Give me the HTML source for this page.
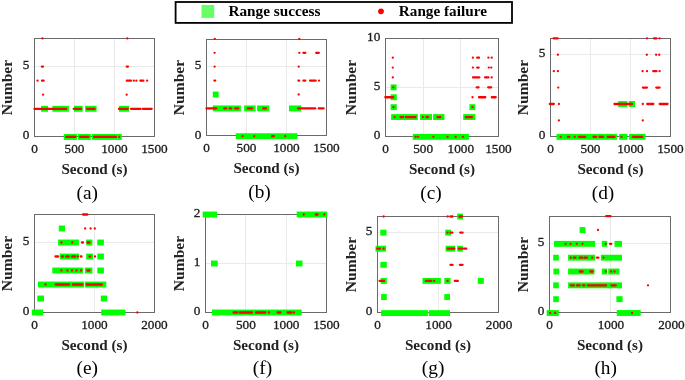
<!DOCTYPE html><html><head><meta charset="utf-8"><title>Range success / failure</title>
<style>html,body{margin:0;padding:0;background:#fff}body{width:685px;height:380px;overflow:hidden}svg{display:block;will-change:transform}text{font-family:"Liberation Serif",serif;fill:#222}.b{font-weight:bold}.t{fill:#1c1c1c;stroke:#1c1c1c;stroke-width:0.3px}</style></head><body>
<svg width="685" height="380" viewBox="0 0 685 380">
<rect x="0" y="0" width="685" height="380" fill="#fff"/>
<rect x="175.6" y="2.0" width="336.4" height="20.9" fill="#fff" stroke="#000" stroke-width="1.8"/>
<rect x="201.5" y="5.0" width="12.7" height="12.9" fill="#66ff66"/>
<text class="b" x="228.4" y="16.3" font-size="14.6" textLength="92.1" lengthAdjust="spacingAndGlyphs" style="fill:#000">Range success</text>
<circle cx="381.0" cy="11.3" r="2.85" fill="#ff0000"/>
<text class="b" x="398.8" y="16.3" font-size="14.6" textLength="88.1" lengthAdjust="spacingAndGlyphs" style="fill:#000">Range failure</text>
<g id="pa">
<line x1="74.50" y1="38.50" x2="74.50" y2="136.50" stroke="#eaeaea" stroke-width="1"/>
<line x1="114.50" y1="38.50" x2="114.50" y2="136.50" stroke="#eaeaea" stroke-width="1"/>
<line x1="34.50" y1="66.50" x2="154.50" y2="66.50" stroke="#eaeaea" stroke-width="1"/>
<rect x="34.50" y="38.50" width="120.00" height="98.00" fill="none" stroke="#6a6a6a" stroke-width="1"/>
<rect x="41.10" y="105.84" width="7.00" height="5.90" fill="#00ff00"/>
<rect x="52.40" y="105.84" width="16.50" height="5.90" fill="#00ff00"/>
<rect x="74.00" y="105.84" width="8.70" height="5.90" fill="#00ff00"/>
<rect x="85.10" y="105.84" width="11.50" height="5.90" fill="#00ff00"/>
<rect x="118.90" y="105.84" width="10.20" height="5.90" fill="#00ff00"/>
<rect x="63.80" y="134.00" width="13.10" height="5.90" fill="#00ff00"/>
<rect x="78.00" y="134.00" width="12.80" height="5.90" fill="#00ff00"/>
<rect x="91.90" y="134.00" width="29.90" height="5.90" fill="#00ff00"/>
<circle cx="42.40" cy="38.39" r="1.15" fill="#ff0000"/>
<circle cx="127.30" cy="38.39" r="1.15" fill="#ff0000"/>
<line x1="41.90" y1="66.55" x2="43.00" y2="66.55" stroke="#ff0000" stroke-width="2.3" stroke-linecap="round"/>
<line x1="126.70" y1="66.55" x2="128.00" y2="66.55" stroke="#ff0000" stroke-width="2.3" stroke-linecap="round"/>
<circle cx="37.50" cy="80.63" r="1.15" fill="#ff0000"/>
<line x1="42.00" y1="80.63" x2="43.60" y2="80.63" stroke="#ff0000" stroke-width="2.3" stroke-linecap="round"/>
<line x1="126.80" y1="80.63" x2="131.00" y2="80.63" stroke="#ff0000" stroke-width="2.3" stroke-linecap="round"/>
<circle cx="133.80" cy="80.63" r="1.15" fill="#ff0000"/>
<circle cx="136.40" cy="80.63" r="1.15" fill="#ff0000"/>
<line x1="140.40" y1="80.63" x2="143.30" y2="80.63" stroke="#ff0000" stroke-width="2.3" stroke-linecap="round"/>
<circle cx="147.10" cy="80.63" r="1.15" fill="#ff0000"/>
<circle cx="43.10" cy="94.71" r="1.15" fill="#ff0000"/>
<circle cx="126.70" cy="94.71" r="1.15" fill="#ff0000"/>
<line x1="34.40" y1="108.79" x2="66.20" y2="108.79" stroke="#ff0000" stroke-width="2.3" stroke-linecap="round"/>
<line x1="73.70" y1="108.79" x2="81.20" y2="108.79" stroke="#ff0000" stroke-width="2.3" stroke-linecap="round"/>
<line x1="87.10" y1="108.79" x2="94.60" y2="108.79" stroke="#ff0000" stroke-width="2.3" stroke-linecap="round"/>
<line x1="119.00" y1="108.79" x2="127.80" y2="108.79" stroke="#ff0000" stroke-width="2.3" stroke-linecap="round"/>
<line x1="131.00" y1="108.79" x2="140.70" y2="108.79" stroke="#ff0000" stroke-width="2.3" stroke-linecap="round"/>
<line x1="142.90" y1="108.79" x2="151.70" y2="108.79" stroke="#ff0000" stroke-width="2.3" stroke-linecap="round"/>
<line x1="66.30" y1="136.95" x2="75.40" y2="136.95" stroke="#ff0000" stroke-width="2.3" stroke-linecap="round"/>
<line x1="80.20" y1="136.95" x2="88.50" y2="136.95" stroke="#ff0000" stroke-width="2.3" stroke-linecap="round"/>
<line x1="94.00" y1="136.95" x2="115.90" y2="136.95" stroke="#ff0000" stroke-width="2.3" stroke-linecap="round"/>
<circle cx="119.20" cy="136.95" r="1.15" fill="#ff0000"/>
<text class="t" x="34.50" y="153.00" font-size="12.5" text-anchor="middle" textLength="6.62" lengthAdjust="spacingAndGlyphs">0</text>
<text class="t" x="74.50" y="153.00" font-size="12.5" text-anchor="middle" textLength="19.86" lengthAdjust="spacingAndGlyphs">500</text>
<text class="t" x="114.50" y="153.00" font-size="12.5" text-anchor="middle" textLength="26.48" lengthAdjust="spacingAndGlyphs">1000</text>
<text class="t" x="154.50" y="153.00" font-size="12.5" text-anchor="middle" textLength="26.48" lengthAdjust="spacingAndGlyphs">1500</text>
<text class="t" x="29.30" y="139.00" font-size="12.5" text-anchor="end" textLength="6.62" lengthAdjust="spacingAndGlyphs">0</text>
<text class="t" x="29.30" y="69.00" font-size="12.5" text-anchor="end" textLength="6.62" lengthAdjust="spacingAndGlyphs">5</text>
<text class="b" x="94.50" y="174.20" font-size="13.6" text-anchor="middle" textLength="66.2" lengthAdjust="spacingAndGlyphs">Second (s)</text>
<text class="b" transform="translate(12.30,87.50) rotate(-90)" font-size="13.6" text-anchor="middle" textLength="55.4" lengthAdjust="spacingAndGlyphs">Number</text>
<text x="87.30" y="198.90" font-size="18" text-anchor="middle" textLength="21.48" lengthAdjust="spacingAndGlyphs" style="fill:#000">(a)</text>
</g>
<g id="pb">
<line x1="246.50" y1="39.50" x2="246.50" y2="135.50" stroke="#eaeaea" stroke-width="1"/>
<line x1="286.50" y1="39.50" x2="286.50" y2="135.50" stroke="#eaeaea" stroke-width="1"/>
<line x1="206.50" y1="66.50" x2="326.50" y2="66.50" stroke="#eaeaea" stroke-width="1"/>
<rect x="206.50" y="39.50" width="120.00" height="96.00" fill="none" stroke="#6a6a6a" stroke-width="1"/>
<rect x="212.80" y="91.55" width="5.80" height="5.90" fill="#00ff00"/>
<rect x="212.80" y="105.45" width="28.10" height="5.90" fill="#00ff00"/>
<rect x="244.10" y="105.45" width="11.50" height="5.90" fill="#00ff00"/>
<rect x="257.10" y="105.45" width="12.20" height="5.90" fill="#00ff00"/>
<rect x="289.00" y="105.45" width="12.10" height="5.90" fill="#00ff00"/>
<rect x="235.80" y="133.25" width="61.60" height="5.90" fill="#00ff00"/>
<circle cx="214.80" cy="38.90" r="1.15" fill="#ff0000"/>
<circle cx="299.30" cy="38.90" r="1.15" fill="#ff0000"/>
<circle cx="214.60" cy="52.80" r="1.15" fill="#ff0000"/>
<circle cx="299.30" cy="52.80" r="1.15" fill="#ff0000"/>
<line x1="303.40" y1="52.80" x2="305.30" y2="52.80" stroke="#ff0000" stroke-width="2.3" stroke-linecap="round"/>
<line x1="316.20" y1="52.80" x2="318.80" y2="52.80" stroke="#ff0000" stroke-width="2.3" stroke-linecap="round"/>
<circle cx="214.60" cy="66.70" r="1.15" fill="#ff0000"/>
<circle cx="298.70" cy="66.70" r="1.15" fill="#ff0000"/>
<line x1="214.40" y1="80.60" x2="215.20" y2="80.60" stroke="#ff0000" stroke-width="2.3" stroke-linecap="round"/>
<line x1="298.40" y1="80.60" x2="299.20" y2="80.60" stroke="#ff0000" stroke-width="2.3" stroke-linecap="round"/>
<line x1="303.40" y1="80.60" x2="305.30" y2="80.60" stroke="#ff0000" stroke-width="2.3" stroke-linecap="round"/>
<line x1="310.00" y1="80.60" x2="315.70" y2="80.60" stroke="#ff0000" stroke-width="2.3" stroke-linecap="round"/>
<circle cx="319.00" cy="80.60" r="1.15" fill="#ff0000"/>
<circle cx="298.70" cy="94.50" r="1.15" fill="#ff0000"/>
<line x1="206.50" y1="108.40" x2="216.30" y2="108.40" stroke="#ff0000" stroke-width="2.3" stroke-linecap="round"/>
<line x1="224.20" y1="108.40" x2="226.10" y2="108.40" stroke="#ff0000" stroke-width="2.3" stroke-linecap="round"/>
<line x1="229.70" y1="108.40" x2="231.20" y2="108.40" stroke="#ff0000" stroke-width="2.3" stroke-linecap="round"/>
<line x1="235.20" y1="108.40" x2="238.20" y2="108.40" stroke="#ff0000" stroke-width="2.3" stroke-linecap="round"/>
<line x1="247.70" y1="108.40" x2="251.90" y2="108.40" stroke="#ff0000" stroke-width="2.3" stroke-linecap="round"/>
<line x1="263.30" y1="108.40" x2="265.90" y2="108.40" stroke="#ff0000" stroke-width="2.3" stroke-linecap="round"/>
<line x1="298.10" y1="108.40" x2="315.20" y2="108.40" stroke="#ff0000" stroke-width="2.3" stroke-linecap="round"/>
<line x1="318.70" y1="108.40" x2="323.60" y2="108.40" stroke="#ff0000" stroke-width="2.3" stroke-linecap="round"/>
<circle cx="242.50" cy="136.20" r="1.15" fill="#ff0000"/>
<circle cx="254.20" cy="136.20" r="1.15" fill="#ff0000"/>
<line x1="272.00" y1="136.20" x2="273.80" y2="136.20" stroke="#ff0000" stroke-width="2.3" stroke-linecap="round"/>
<circle cx="285.20" cy="136.20" r="1.15" fill="#ff0000"/>
<text class="t" x="206.50" y="152.00" font-size="12.5" text-anchor="middle" textLength="6.62" lengthAdjust="spacingAndGlyphs">0</text>
<text class="t" x="246.50" y="152.00" font-size="12.5" text-anchor="middle" textLength="19.86" lengthAdjust="spacingAndGlyphs">500</text>
<text class="t" x="286.50" y="152.00" font-size="12.5" text-anchor="middle" textLength="26.48" lengthAdjust="spacingAndGlyphs">1000</text>
<text class="t" x="326.50" y="152.00" font-size="12.5" text-anchor="middle" textLength="26.48" lengthAdjust="spacingAndGlyphs">1500</text>
<text class="t" x="201.30" y="139.00" font-size="12.5" text-anchor="end" textLength="6.62" lengthAdjust="spacingAndGlyphs">0</text>
<text class="t" x="201.30" y="69.00" font-size="12.5" text-anchor="end" textLength="6.62" lengthAdjust="spacingAndGlyphs">5</text>
<text class="b" x="266.50" y="173.20" font-size="13.6" text-anchor="middle" textLength="66.2" lengthAdjust="spacingAndGlyphs">Second (s)</text>
<text class="b" transform="translate(184.00,87.50) rotate(-90)" font-size="13.6" text-anchor="middle" textLength="55.4" lengthAdjust="spacingAndGlyphs">Number</text>
<text x="259.50" y="197.90" font-size="18" text-anchor="middle" textLength="22.56" lengthAdjust="spacingAndGlyphs" style="fill:#000">(b)</text>
</g>
<g id="pc">
<line x1="423.50" y1="38.50" x2="423.50" y2="136.50" stroke="#eaeaea" stroke-width="1"/>
<line x1="460.50" y1="38.50" x2="460.50" y2="136.50" stroke="#eaeaea" stroke-width="1"/>
<line x1="385.50" y1="87.50" x2="498.50" y2="87.50" stroke="#eaeaea" stroke-width="1"/>
<rect x="385.50" y="38.50" width="113.00" height="98.00" fill="none" stroke="#6a6a6a" stroke-width="1"/>
<rect x="390.60" y="84.40" width="6.00" height="5.90" fill="#00ff00"/>
<rect x="390.60" y="94.30" width="6.20" height="5.90" fill="#00ff00"/>
<rect x="390.60" y="104.20" width="6.20" height="5.90" fill="#00ff00"/>
<rect x="469.40" y="104.20" width="5.80" height="5.90" fill="#00ff00"/>
<rect x="391.10" y="114.10" width="26.70" height="5.90" fill="#00ff00"/>
<rect x="420.10" y="114.10" width="11.90" height="5.90" fill="#00ff00"/>
<rect x="433.10" y="114.10" width="11.30" height="5.90" fill="#00ff00"/>
<rect x="463.20" y="114.10" width="12.10" height="5.90" fill="#00ff00"/>
<rect x="412.80" y="133.90" width="56.10" height="5.90" fill="#00ff00"/>
<circle cx="392.80" cy="57.65" r="1.15" fill="#ff0000"/>
<circle cx="472.90" cy="57.65" r="1.15" fill="#ff0000"/>
<line x1="477.20" y1="57.65" x2="479.00" y2="57.65" stroke="#ff0000" stroke-width="2.3" stroke-linecap="round"/>
<circle cx="488.40" cy="57.65" r="1.15" fill="#ff0000"/>
<circle cx="491.70" cy="57.65" r="1.15" fill="#ff0000"/>
<circle cx="392.80" cy="67.55" r="1.15" fill="#ff0000"/>
<circle cx="472.90" cy="67.55" r="1.15" fill="#ff0000"/>
<line x1="477.20" y1="67.55" x2="478.60" y2="67.55" stroke="#ff0000" stroke-width="2.3" stroke-linecap="round"/>
<circle cx="488.80" cy="67.55" r="1.15" fill="#ff0000"/>
<circle cx="491.30" cy="67.55" r="1.15" fill="#ff0000"/>
<circle cx="392.80" cy="77.45" r="1.15" fill="#ff0000"/>
<line x1="473.00" y1="77.45" x2="479.30" y2="77.45" stroke="#ff0000" stroke-width="2.3" stroke-linecap="round"/>
<line x1="485.10" y1="77.45" x2="488.40" y2="77.45" stroke="#ff0000" stroke-width="2.3" stroke-linecap="round"/>
<circle cx="491.70" cy="77.45" r="1.15" fill="#ff0000"/>
<circle cx="393.30" cy="87.35" r="1.15" fill="#ff0000"/>
<line x1="476.70" y1="87.35" x2="478.60" y2="87.35" stroke="#ff0000" stroke-width="2.3" stroke-linecap="round"/>
<line x1="488.20" y1="87.35" x2="491.20" y2="87.35" stroke="#ff0000" stroke-width="2.3" stroke-linecap="round"/>
<line x1="385.30" y1="97.25" x2="393.20" y2="97.25" stroke="#ff0000" stroke-width="2.3" stroke-linecap="round"/>
<circle cx="472.50" cy="97.25" r="1.15" fill="#ff0000"/>
<line x1="479.00" y1="97.25" x2="485.30" y2="97.25" stroke="#ff0000" stroke-width="2.3" stroke-linecap="round"/>
<line x1="491.80" y1="97.25" x2="495.70" y2="97.25" stroke="#ff0000" stroke-width="2.3" stroke-linecap="round"/>
<circle cx="393.50" cy="107.15" r="1.15" fill="#ff0000"/>
<circle cx="472.50" cy="107.15" r="1.15" fill="#ff0000"/>
<circle cx="394.60" cy="117.05" r="1.15" fill="#ff0000"/>
<line x1="400.50" y1="117.05" x2="403.20" y2="117.05" stroke="#ff0000" stroke-width="2.3" stroke-linecap="round"/>
<line x1="406.00" y1="117.05" x2="415.50" y2="117.05" stroke="#ff0000" stroke-width="2.3" stroke-linecap="round"/>
<circle cx="422.90" cy="117.05" r="1.15" fill="#ff0000"/>
<line x1="426.40" y1="117.05" x2="428.10" y2="117.05" stroke="#ff0000" stroke-width="2.3" stroke-linecap="round"/>
<line x1="437.40" y1="117.05" x2="440.30" y2="117.05" stroke="#ff0000" stroke-width="2.3" stroke-linecap="round"/>
<line x1="465.90" y1="117.05" x2="472.00" y2="117.05" stroke="#ff0000" stroke-width="2.3" stroke-linecap="round"/>
<circle cx="415.60" cy="136.85" r="1.15" fill="#ff0000"/>
<circle cx="418.00" cy="136.85" r="1.15" fill="#ff0000"/>
<circle cx="433.30" cy="136.85" r="1.15" fill="#ff0000"/>
<circle cx="447.50" cy="136.85" r="1.15" fill="#ff0000"/>
<circle cx="455.70" cy="136.85" r="1.15" fill="#ff0000"/>
<circle cx="463.00" cy="136.85" r="1.15" fill="#ff0000"/>
<text class="t" x="385.50" y="153.00" font-size="12.5" text-anchor="middle" textLength="6.62" lengthAdjust="spacingAndGlyphs">0</text>
<text class="t" x="423.17" y="153.00" font-size="12.5" text-anchor="middle" textLength="19.86" lengthAdjust="spacingAndGlyphs">500</text>
<text class="t" x="460.83" y="153.00" font-size="12.5" text-anchor="middle" textLength="26.48" lengthAdjust="spacingAndGlyphs">1000</text>
<text class="t" x="498.50" y="153.00" font-size="12.5" text-anchor="middle" textLength="26.48" lengthAdjust="spacingAndGlyphs">1500</text>
<text class="t" x="380.30" y="139.00" font-size="12.5" text-anchor="end" textLength="6.62" lengthAdjust="spacingAndGlyphs">0</text>
<text class="t" x="380.30" y="90.00" font-size="12.5" text-anchor="end" textLength="6.62" lengthAdjust="spacingAndGlyphs">5</text>
<text class="t" x="380.30" y="41.00" font-size="12.5" text-anchor="end" textLength="13.24" lengthAdjust="spacingAndGlyphs">10</text>
<text class="b" x="442.00" y="174.20" font-size="13.6" text-anchor="middle" textLength="66.2" lengthAdjust="spacingAndGlyphs">Second (s)</text>
<text class="b" transform="translate(355.70,87.50) rotate(-90)" font-size="13.6" text-anchor="middle" textLength="55.4" lengthAdjust="spacingAndGlyphs">Number</text>
<text x="431.00" y="198.90" font-size="18" text-anchor="middle" textLength="21.48" lengthAdjust="spacingAndGlyphs" style="fill:#000">(c)</text>
</g>
<g id="pd">
<line x1="590.50" y1="38.50" x2="590.50" y2="136.50" stroke="#eaeaea" stroke-width="1"/>
<line x1="630.50" y1="38.50" x2="630.50" y2="136.50" stroke="#eaeaea" stroke-width="1"/>
<line x1="550.50" y1="54.50" x2="670.50" y2="54.50" stroke="#eaeaea" stroke-width="1"/>
<rect x="550.50" y="38.50" width="120.00" height="98.00" fill="none" stroke="#6a6a6a" stroke-width="1"/>
<rect x="618.20" y="101.06" width="9.10" height="5.90" fill="#00ff00"/>
<rect x="628.90" y="101.06" width="6.10" height="5.90" fill="#00ff00"/>
<rect x="556.50" y="133.90" width="60.40" height="5.90" fill="#00ff00"/>
<rect x="619.10" y="133.90" width="8.20" height="5.90" fill="#00ff00"/>
<rect x="629.10" y="133.90" width="16.40" height="5.90" fill="#00ff00"/>
<line x1="553.60" y1="38.33" x2="557.70" y2="38.33" stroke="#ff0000" stroke-width="2.3" stroke-linecap="round"/>
<circle cx="647.00" cy="38.33" r="1.15" fill="#ff0000"/>
<line x1="653.90" y1="38.33" x2="656.50" y2="38.33" stroke="#ff0000" stroke-width="2.3" stroke-linecap="round"/>
<circle cx="659.60" cy="38.33" r="1.15" fill="#ff0000"/>
<circle cx="557.90" cy="54.75" r="1.15" fill="#ff0000"/>
<circle cx="646.80" cy="54.75" r="1.15" fill="#ff0000"/>
<circle cx="656.10" cy="54.75" r="1.15" fill="#ff0000"/>
<circle cx="659.20" cy="54.75" r="1.15" fill="#ff0000"/>
<circle cx="553.80" cy="71.17" r="1.15" fill="#ff0000"/>
<circle cx="557.90" cy="71.17" r="1.15" fill="#ff0000"/>
<circle cx="642.60" cy="71.17" r="1.15" fill="#ff0000"/>
<circle cx="647.00" cy="71.17" r="1.15" fill="#ff0000"/>
<line x1="653.30" y1="71.17" x2="656.50" y2="71.17" stroke="#ff0000" stroke-width="2.3" stroke-linecap="round"/>
<circle cx="659.60" cy="71.17" r="1.15" fill="#ff0000"/>
<circle cx="558.30" cy="87.59" r="1.15" fill="#ff0000"/>
<line x1="642.90" y1="87.59" x2="646.90" y2="87.59" stroke="#ff0000" stroke-width="2.3" stroke-linecap="round"/>
<line x1="656.30" y1="87.59" x2="659.60" y2="87.59" stroke="#ff0000" stroke-width="2.3" stroke-linecap="round"/>
<line x1="549.80" y1="104.01" x2="553.80" y2="104.01" stroke="#ff0000" stroke-width="2.3" stroke-linecap="round"/>
<circle cx="558.90" cy="104.01" r="1.15" fill="#ff0000"/>
<line x1="614.50" y1="104.01" x2="631.90" y2="104.01" stroke="#ff0000" stroke-width="2.3" stroke-linecap="round"/>
<circle cx="642.80" cy="104.01" r="1.15" fill="#ff0000"/>
<line x1="647.30" y1="104.01" x2="653.30" y2="104.01" stroke="#ff0000" stroke-width="2.3" stroke-linecap="round"/>
<line x1="659.70" y1="104.01" x2="667.50" y2="104.01" stroke="#ff0000" stroke-width="2.3" stroke-linecap="round"/>
<circle cx="558.90" cy="120.43" r="1.15" fill="#ff0000"/>
<circle cx="642.80" cy="120.43" r="1.15" fill="#ff0000"/>
<circle cx="560.70" cy="136.85" r="1.15" fill="#ff0000"/>
<line x1="567.90" y1="136.85" x2="569.30" y2="136.85" stroke="#ff0000" stroke-width="2.3" stroke-linecap="round"/>
<circle cx="574.70" cy="136.85" r="1.15" fill="#ff0000"/>
<line x1="578.90" y1="136.85" x2="585.20" y2="136.85" stroke="#ff0000" stroke-width="2.3" stroke-linecap="round"/>
<line x1="593.50" y1="136.85" x2="596.10" y2="136.85" stroke="#ff0000" stroke-width="2.3" stroke-linecap="round"/>
<line x1="599.50" y1="136.85" x2="603.10" y2="136.85" stroke="#ff0000" stroke-width="2.3" stroke-linecap="round"/>
<line x1="607.70" y1="136.85" x2="614.40" y2="136.85" stroke="#ff0000" stroke-width="2.3" stroke-linecap="round"/>
<circle cx="621.50" cy="136.85" r="1.15" fill="#ff0000"/>
<line x1="632.90" y1="136.85" x2="642.30" y2="136.85" stroke="#ff0000" stroke-width="2.3" stroke-linecap="round"/>
<text class="t" x="550.50" y="153.00" font-size="12.5" text-anchor="middle" textLength="6.62" lengthAdjust="spacingAndGlyphs">0</text>
<text class="t" x="590.50" y="153.00" font-size="12.5" text-anchor="middle" textLength="19.86" lengthAdjust="spacingAndGlyphs">500</text>
<text class="t" x="630.50" y="153.00" font-size="12.5" text-anchor="middle" textLength="26.48" lengthAdjust="spacingAndGlyphs">1000</text>
<text class="t" x="670.50" y="153.00" font-size="12.5" text-anchor="middle" textLength="26.48" lengthAdjust="spacingAndGlyphs">1500</text>
<text class="t" x="545.30" y="139.00" font-size="12.5" text-anchor="end" textLength="6.62" lengthAdjust="spacingAndGlyphs">0</text>
<text class="t" x="545.30" y="57.00" font-size="12.5" text-anchor="end" textLength="6.62" lengthAdjust="spacingAndGlyphs">5</text>
<text class="b" x="610.50" y="174.20" font-size="13.6" text-anchor="middle" textLength="66.2" lengthAdjust="spacingAndGlyphs">Second (s)</text>
<text class="b" transform="translate(527.60,87.50) rotate(-90)" font-size="13.6" text-anchor="middle" textLength="55.4" lengthAdjust="spacingAndGlyphs">Number</text>
<text x="603.00" y="198.90" font-size="18" text-anchor="middle" textLength="22.56" lengthAdjust="spacingAndGlyphs" style="fill:#000">(d)</text>
</g>
<g id="pe">
<line x1="94.50" y1="214.50" x2="94.50" y2="312.50" stroke="#eaeaea" stroke-width="1"/>
<line x1="34.50" y1="242.50" x2="154.50" y2="242.50" stroke="#eaeaea" stroke-width="1"/>
<rect x="34.50" y="214.50" width="120.00" height="98.00" fill="none" stroke="#6a6a6a" stroke-width="1"/>
<rect x="58.80" y="225.55" width="6.20" height="5.90" fill="#00ff00"/>
<rect x="58.10" y="239.55" width="20.80" height="5.90" fill="#00ff00"/>
<rect x="86.20" y="239.55" width="6.20" height="5.90" fill="#00ff00"/>
<rect x="97.30" y="239.55" width="6.60" height="5.90" fill="#00ff00"/>
<rect x="59.70" y="253.55" width="19.20" height="5.90" fill="#00ff00"/>
<rect x="86.20" y="253.55" width="6.80" height="5.90" fill="#00ff00"/>
<rect x="97.30" y="253.55" width="6.60" height="5.90" fill="#00ff00"/>
<rect x="52.30" y="267.55" width="30.60" height="5.90" fill="#00ff00"/>
<rect x="84.90" y="267.55" width="7.50" height="5.90" fill="#00ff00"/>
<rect x="97.30" y="267.55" width="6.60" height="5.90" fill="#00ff00"/>
<rect x="38.00" y="281.55" width="46.20" height="5.90" fill="#00ff00"/>
<rect x="84.90" y="281.55" width="21.40" height="5.90" fill="#00ff00"/>
<rect x="37.30" y="295.55" width="6.70" height="5.90" fill="#00ff00"/>
<rect x="100.80" y="295.55" width="6.40" height="5.90" fill="#00ff00"/>
<rect x="31.80" y="309.55" width="11.30" height="5.90" fill="#00ff00"/>
<rect x="101.20" y="309.55" width="24.20" height="5.90" fill="#00ff00"/>
<line x1="83.00" y1="214.50" x2="87.40" y2="214.50" stroke="#ff0000" stroke-width="2.3" stroke-linecap="round"/>
<circle cx="85.10" cy="228.50" r="1.15" fill="#ff0000"/>
<circle cx="90.60" cy="228.50" r="1.15" fill="#ff0000"/>
<circle cx="94.80" cy="228.50" r="1.15" fill="#ff0000"/>
<circle cx="61.40" cy="242.50" r="1.15" fill="#ff0000"/>
<circle cx="72.30" cy="242.50" r="1.15" fill="#ff0000"/>
<line x1="82.00" y1="242.50" x2="83.00" y2="242.50" stroke="#ff0000" stroke-width="2.3" stroke-linecap="round"/>
<line x1="87.40" y1="242.50" x2="89.40" y2="242.50" stroke="#ff0000" stroke-width="2.3" stroke-linecap="round"/>
<line x1="55.50" y1="256.50" x2="58.10" y2="256.50" stroke="#ff0000" stroke-width="2.3" stroke-linecap="round"/>
<line x1="61.90" y1="256.50" x2="62.90" y2="256.50" stroke="#ff0000" stroke-width="2.3" stroke-linecap="round"/>
<line x1="66.30" y1="256.50" x2="68.70" y2="256.50" stroke="#ff0000" stroke-width="2.3" stroke-linecap="round"/>
<line x1="72.10" y1="256.50" x2="75.10" y2="256.50" stroke="#ff0000" stroke-width="2.3" stroke-linecap="round"/>
<circle cx="77.80" cy="256.50" r="1.15" fill="#ff0000"/>
<line x1="80.70" y1="256.50" x2="81.50" y2="256.50" stroke="#ff0000" stroke-width="2.3" stroke-linecap="round"/>
<line x1="89.60" y1="256.50" x2="90.30" y2="256.50" stroke="#ff0000" stroke-width="2.3" stroke-linecap="round"/>
<circle cx="95.00" cy="256.50" r="1.15" fill="#ff0000"/>
<circle cx="61.40" cy="270.50" r="1.15" fill="#ff0000"/>
<circle cx="67.40" cy="270.50" r="1.15" fill="#ff0000"/>
<circle cx="72.00" cy="270.50" r="1.15" fill="#ff0000"/>
<circle cx="76.50" cy="270.50" r="1.15" fill="#ff0000"/>
<circle cx="81.10" cy="270.50" r="1.15" fill="#ff0000"/>
<line x1="87.40" y1="270.50" x2="89.40" y2="270.50" stroke="#ff0000" stroke-width="2.3" stroke-linecap="round"/>
<circle cx="45.50" cy="284.50" r="1.15" fill="#ff0000"/>
<line x1="55.70" y1="284.50" x2="69.10" y2="284.50" stroke="#ff0000" stroke-width="2.3" stroke-linecap="round"/>
<line x1="72.80" y1="284.50" x2="82.40" y2="284.50" stroke="#ff0000" stroke-width="2.3" stroke-linecap="round"/>
<line x1="86.70" y1="284.50" x2="101.90" y2="284.50" stroke="#ff0000" stroke-width="2.3" stroke-linecap="round"/>
<circle cx="137.30" cy="312.50" r="1.15" fill="#ff0000"/>
<text class="t" x="34.50" y="329.00" font-size="12.5" text-anchor="middle" textLength="6.62" lengthAdjust="spacingAndGlyphs">0</text>
<text class="t" x="94.50" y="329.00" font-size="12.5" text-anchor="middle" textLength="26.48" lengthAdjust="spacingAndGlyphs">1000</text>
<text class="t" x="154.50" y="329.00" font-size="12.5" text-anchor="middle" textLength="26.48" lengthAdjust="spacingAndGlyphs">2000</text>
<text class="t" x="29.30" y="315.00" font-size="12.5" text-anchor="end" textLength="6.62" lengthAdjust="spacingAndGlyphs">0</text>
<text class="t" x="29.30" y="245.00" font-size="12.5" text-anchor="end" textLength="6.62" lengthAdjust="spacingAndGlyphs">5</text>
<text class="b" x="94.50" y="350.20" font-size="13.6" text-anchor="middle" textLength="66.2" lengthAdjust="spacingAndGlyphs">Second (s)</text>
<text class="b" transform="translate(12.30,263.50) rotate(-90)" font-size="13.6" text-anchor="middle" textLength="55.4" lengthAdjust="spacingAndGlyphs">Number</text>
<text x="87.30" y="374.40" font-size="18" text-anchor="middle" textLength="21.48" lengthAdjust="spacingAndGlyphs" style="fill:#000">(e)</text>
</g>
<g id="pf">
<line x1="245.50" y1="214.50" x2="245.50" y2="312.50" stroke="#eaeaea" stroke-width="1"/>
<line x1="286.50" y1="214.50" x2="286.50" y2="312.50" stroke="#eaeaea" stroke-width="1"/>
<line x1="205.50" y1="263.50" x2="326.50" y2="263.50" stroke="#eaeaea" stroke-width="1"/>
<rect x="205.50" y="214.50" width="121.00" height="98.00" fill="none" stroke="#6a6a6a" stroke-width="1"/>
<rect x="202.70" y="211.55" width="14.30" height="5.90" fill="#00ff00"/>
<rect x="296.70" y="211.55" width="30.50" height="5.90" fill="#00ff00"/>
<rect x="211.00" y="260.55" width="6.70" height="5.90" fill="#00ff00"/>
<rect x="296.00" y="260.55" width="6.50" height="5.90" fill="#00ff00"/>
<rect x="211.90" y="309.55" width="89.80" height="5.90" fill="#00ff00"/>
<circle cx="303.70" cy="214.50" r="1.15" fill="#ff0000"/>
<line x1="315.70" y1="214.50" x2="317.60" y2="214.50" stroke="#ff0000" stroke-width="2.3" stroke-linecap="round"/>
<circle cx="324.30" cy="214.50" r="1.15" fill="#ff0000"/>
<line x1="233.60" y1="312.50" x2="237.10" y2="312.50" stroke="#ff0000" stroke-width="2.3" stroke-linecap="round"/>
<line x1="239.60" y1="312.50" x2="251.90" y2="312.50" stroke="#ff0000" stroke-width="2.3" stroke-linecap="round"/>
<line x1="256.00" y1="312.50" x2="265.40" y2="312.50" stroke="#ff0000" stroke-width="2.3" stroke-linecap="round"/>
<circle cx="269.00" cy="312.50" r="1.15" fill="#ff0000"/>
<line x1="277.60" y1="312.50" x2="280.40" y2="312.50" stroke="#ff0000" stroke-width="2.3" stroke-linecap="round"/>
<line x1="287.60" y1="312.50" x2="291.60" y2="312.50" stroke="#ff0000" stroke-width="2.3" stroke-linecap="round"/>
<circle cx="294.00" cy="312.50" r="1.15" fill="#ff0000"/>
<text class="t" x="205.50" y="329.00" font-size="12.5" text-anchor="middle" textLength="6.62" lengthAdjust="spacingAndGlyphs">0</text>
<text class="t" x="245.83" y="329.00" font-size="12.5" text-anchor="middle" textLength="19.86" lengthAdjust="spacingAndGlyphs">500</text>
<text class="t" x="286.17" y="329.00" font-size="12.5" text-anchor="middle" textLength="26.48" lengthAdjust="spacingAndGlyphs">1000</text>
<text class="t" x="326.50" y="329.00" font-size="12.5" text-anchor="middle" textLength="26.48" lengthAdjust="spacingAndGlyphs">1500</text>
<text class="t" x="200.30" y="315.00" font-size="12.5" text-anchor="end" textLength="6.62" lengthAdjust="spacingAndGlyphs">0</text>
<text class="t" x="200.30" y="266.00" font-size="12.5" text-anchor="end" textLength="6.62" lengthAdjust="spacingAndGlyphs">1</text>
<text class="t" x="200.30" y="217.00" font-size="12.5" text-anchor="end" textLength="6.62" lengthAdjust="spacingAndGlyphs">2</text>
<text class="b" x="266.00" y="350.20" font-size="13.6" text-anchor="middle" textLength="66.2" lengthAdjust="spacingAndGlyphs">Second (s)</text>
<text class="b" transform="translate(184.00,263.50) rotate(-90)" font-size="13.6" text-anchor="middle" textLength="55.4" lengthAdjust="spacingAndGlyphs">Number</text>
<text x="262.50" y="374.40" font-size="18" text-anchor="middle" textLength="19.33" lengthAdjust="spacingAndGlyphs" style="fill:#000">(f)</text>
</g>
<g id="pg">
<line x1="438.50" y1="216.50" x2="438.50" y2="312.50" stroke="#eaeaea" stroke-width="1"/>
<line x1="377.50" y1="232.50" x2="498.50" y2="232.50" stroke="#eaeaea" stroke-width="1"/>
<rect x="377.50" y="216.50" width="121.00" height="96.00" fill="none" stroke="#6a6a6a" stroke-width="1"/>
<rect x="457.20" y="213.55" width="5.70" height="5.90" fill="#00ff00"/>
<rect x="380.30" y="229.65" width="6.20" height="5.90" fill="#00ff00"/>
<rect x="445.20" y="229.65" width="5.80" height="5.90" fill="#00ff00"/>
<rect x="375.50" y="245.75" width="10.60" height="5.90" fill="#00ff00"/>
<rect x="445.60" y="245.75" width="9.60" height="5.90" fill="#00ff00"/>
<rect x="457.20" y="245.75" width="5.70" height="5.90" fill="#00ff00"/>
<rect x="380.40" y="261.85" width="6.40" height="5.90" fill="#00ff00"/>
<rect x="380.70" y="277.95" width="6.10" height="5.90" fill="#00ff00"/>
<rect x="422.50" y="277.95" width="18.30" height="5.90" fill="#00ff00"/>
<rect x="444.30" y="277.95" width="6.30" height="5.90" fill="#00ff00"/>
<rect x="477.80" y="277.95" width="6.00" height="5.90" fill="#00ff00"/>
<rect x="381.10" y="294.05" width="5.70" height="5.90" fill="#00ff00"/>
<rect x="444.30" y="294.05" width="5.70" height="5.90" fill="#00ff00"/>
<rect x="381.10" y="310.15" width="46.80" height="5.90" fill="#00ff00"/>
<rect x="428.80" y="310.15" width="21.20" height="5.90" fill="#00ff00"/>
<circle cx="383.60" cy="216.50" r="1.15" fill="#ff0000"/>
<circle cx="447.70" cy="216.50" r="1.15" fill="#ff0000"/>
<line x1="450.50" y1="216.50" x2="452.40" y2="216.50" stroke="#ff0000" stroke-width="2.3" stroke-linecap="round"/>
<line x1="459.60" y1="216.50" x2="462.10" y2="216.50" stroke="#ff0000" stroke-width="2.3" stroke-linecap="round"/>
<circle cx="447.50" cy="232.60" r="1.15" fill="#ff0000"/>
<line x1="450.50" y1="232.60" x2="452.40" y2="232.60" stroke="#ff0000" stroke-width="2.3" stroke-linecap="round"/>
<line x1="460.20" y1="232.60" x2="462.60" y2="232.60" stroke="#ff0000" stroke-width="2.3" stroke-linecap="round"/>
<line x1="377.30" y1="248.70" x2="379.80" y2="248.70" stroke="#ff0000" stroke-width="2.3" stroke-linecap="round"/>
<circle cx="383.60" cy="248.70" r="1.15" fill="#ff0000"/>
<line x1="447.60" y1="248.70" x2="454.40" y2="248.70" stroke="#ff0000" stroke-width="2.3" stroke-linecap="round"/>
<line x1="458.80" y1="248.70" x2="461.60" y2="248.70" stroke="#ff0000" stroke-width="2.3" stroke-linecap="round"/>
<line x1="463.40" y1="248.70" x2="466.30" y2="248.70" stroke="#ff0000" stroke-width="2.3" stroke-linecap="round"/>
<line x1="450.50" y1="264.80" x2="452.60" y2="264.80" stroke="#ff0000" stroke-width="2.3" stroke-linecap="round"/>
<line x1="459.90" y1="264.80" x2="462.60" y2="264.80" stroke="#ff0000" stroke-width="2.3" stroke-linecap="round"/>
<line x1="379.60" y1="280.90" x2="384.00" y2="280.90" stroke="#ff0000" stroke-width="2.3" stroke-linecap="round"/>
<line x1="425.90" y1="280.90" x2="431.20" y2="280.90" stroke="#ff0000" stroke-width="2.3" stroke-linecap="round"/>
<circle cx="434.20" cy="280.90" r="1.15" fill="#ff0000"/>
<circle cx="447.50" cy="280.90" r="1.15" fill="#ff0000"/>
<line x1="454.80" y1="280.90" x2="457.80" y2="280.90" stroke="#ff0000" stroke-width="2.3" stroke-linecap="round"/>
<text class="t" x="377.50" y="329.00" font-size="12.5" text-anchor="middle" textLength="6.62" lengthAdjust="spacingAndGlyphs">0</text>
<text class="t" x="438.60" y="329.00" font-size="12.5" text-anchor="middle" textLength="26.48" lengthAdjust="spacingAndGlyphs">1000</text>
<text class="t" x="499.10" y="329.00" font-size="12.5" text-anchor="middle" textLength="26.48" lengthAdjust="spacingAndGlyphs">2000</text>
<text class="t" x="372.30" y="315.00" font-size="12.5" text-anchor="end" textLength="6.62" lengthAdjust="spacingAndGlyphs">0</text>
<text class="t" x="372.30" y="235.00" font-size="12.5" text-anchor="end" textLength="6.62" lengthAdjust="spacingAndGlyphs">5</text>
<text class="b" x="438.00" y="350.20" font-size="13.6" text-anchor="middle" textLength="66.2" lengthAdjust="spacingAndGlyphs">Second (s)</text>
<text class="b" transform="translate(355.70,264.50) rotate(-90)" font-size="13.6" text-anchor="middle" textLength="55.4" lengthAdjust="spacingAndGlyphs">Number</text>
<text x="433.10" y="374.40" font-size="18" text-anchor="middle" textLength="22.56" lengthAdjust="spacingAndGlyphs" style="fill:#000">(g)</text>
</g>
<g id="ph">
<line x1="610.50" y1="216.50" x2="610.50" y2="312.50" stroke="#eaeaea" stroke-width="1"/>
<line x1="549.50" y1="243.50" x2="670.50" y2="243.50" stroke="#eaeaea" stroke-width="1"/>
<rect x="549.50" y="216.50" width="121.00" height="96.00" fill="none" stroke="#6a6a6a" stroke-width="1"/>
<rect x="579.60" y="227.07" width="5.80" height="5.90" fill="#00ff00"/>
<rect x="554.00" y="240.90" width="41.10" height="5.90" fill="#00ff00"/>
<rect x="601.80" y="240.90" width="5.40" height="5.90" fill="#00ff00"/>
<rect x="614.50" y="240.90" width="7.50" height="5.90" fill="#00ff00"/>
<rect x="553.20" y="254.73" width="5.60" height="5.90" fill="#00ff00"/>
<rect x="568.10" y="254.73" width="27.00" height="5.90" fill="#00ff00"/>
<rect x="600.80" y="254.73" width="21.20" height="5.90" fill="#00ff00"/>
<rect x="553.40" y="268.56" width="5.80" height="5.90" fill="#00ff00"/>
<rect x="568.10" y="268.56" width="26.40" height="5.90" fill="#00ff00"/>
<rect x="601.80" y="268.56" width="5.40" height="5.90" fill="#00ff00"/>
<rect x="608.20" y="268.56" width="11.30" height="5.90" fill="#00ff00"/>
<rect x="553.20" y="282.39" width="5.60" height="5.90" fill="#00ff00"/>
<rect x="568.10" y="282.39" width="53.90" height="5.90" fill="#00ff00"/>
<rect x="553.20" y="296.22" width="5.60" height="5.90" fill="#00ff00"/>
<rect x="616.40" y="296.22" width="6.20" height="5.90" fill="#00ff00"/>
<rect x="546.70" y="310.05" width="12.10" height="5.90" fill="#00ff00"/>
<rect x="616.80" y="310.05" width="23.90" height="5.90" fill="#00ff00"/>
<line x1="606.20" y1="216.19" x2="610.50" y2="216.19" stroke="#ff0000" stroke-width="2.3" stroke-linecap="round"/>
<circle cx="598.00" cy="230.02" r="1.15" fill="#ff0000"/>
<circle cx="565.60" cy="243.85" r="1.15" fill="#ff0000"/>
<circle cx="570.60" cy="243.85" r="1.15" fill="#ff0000"/>
<circle cx="576.80" cy="243.85" r="1.15" fill="#ff0000"/>
<circle cx="582.50" cy="243.85" r="1.15" fill="#ff0000"/>
<circle cx="605.70" cy="243.85" r="1.15" fill="#ff0000"/>
<line x1="610.00" y1="243.85" x2="611.30" y2="243.85" stroke="#ff0000" stroke-width="2.3" stroke-linecap="round"/>
<circle cx="570.70" cy="257.68" r="1.15" fill="#ff0000"/>
<line x1="573.90" y1="257.68" x2="575.40" y2="257.68" stroke="#ff0000" stroke-width="2.3" stroke-linecap="round"/>
<line x1="579.70" y1="257.68" x2="582.20" y2="257.68" stroke="#ff0000" stroke-width="2.3" stroke-linecap="round"/>
<line x1="584.50" y1="257.68" x2="586.90" y2="257.68" stroke="#ff0000" stroke-width="2.3" stroke-linecap="round"/>
<circle cx="592.20" cy="257.68" r="1.15" fill="#ff0000"/>
<line x1="597.00" y1="257.68" x2="598.40" y2="257.68" stroke="#ff0000" stroke-width="2.3" stroke-linecap="round"/>
<circle cx="603.50" cy="257.68" r="1.15" fill="#ff0000"/>
<line x1="579.80" y1="271.51" x2="582.60" y2="271.51" stroke="#ff0000" stroke-width="2.3" stroke-linecap="round"/>
<line x1="590.40" y1="271.51" x2="592.60" y2="271.51" stroke="#ff0000" stroke-width="2.3" stroke-linecap="round"/>
<circle cx="605.70" cy="271.51" r="1.15" fill="#ff0000"/>
<circle cx="611.10" cy="271.51" r="1.15" fill="#ff0000"/>
<circle cx="614.50" cy="271.51" r="1.15" fill="#ff0000"/>
<line x1="570.90" y1="285.34" x2="573.90" y2="285.34" stroke="#ff0000" stroke-width="2.3" stroke-linecap="round"/>
<line x1="576.90" y1="285.34" x2="579.70" y2="285.34" stroke="#ff0000" stroke-width="2.3" stroke-linecap="round"/>
<line x1="583.00" y1="285.34" x2="584.50" y2="285.34" stroke="#ff0000" stroke-width="2.3" stroke-linecap="round"/>
<line x1="587.90" y1="285.34" x2="606.10" y2="285.34" stroke="#ff0000" stroke-width="2.3" stroke-linecap="round"/>
<line x1="611.40" y1="285.34" x2="615.80" y2="285.34" stroke="#ff0000" stroke-width="2.3" stroke-linecap="round"/>
<circle cx="648.00" cy="285.34" r="1.15" fill="#ff0000"/>
<circle cx="550.20" cy="313.00" r="1.15" fill="#ff0000"/>
<circle cx="555.20" cy="313.00" r="1.15" fill="#ff0000"/>
<circle cx="632.10" cy="313.00" r="1.15" fill="#ff0000"/>
<text class="t" x="549.50" y="329.00" font-size="12.5" text-anchor="middle" textLength="6.62" lengthAdjust="spacingAndGlyphs">0</text>
<text class="t" x="610.90" y="329.00" font-size="12.5" text-anchor="middle" textLength="26.48" lengthAdjust="spacingAndGlyphs">1000</text>
<text class="t" x="671.40" y="329.00" font-size="12.5" text-anchor="middle" textLength="26.48" lengthAdjust="spacingAndGlyphs">2000</text>
<text class="t" x="544.30" y="315.00" font-size="12.5" text-anchor="end" textLength="6.62" lengthAdjust="spacingAndGlyphs">0</text>
<text class="t" x="544.30" y="246.00" font-size="12.5" text-anchor="end" textLength="6.62" lengthAdjust="spacingAndGlyphs">5</text>
<text class="b" x="610.00" y="350.20" font-size="13.6" text-anchor="middle" textLength="66.2" lengthAdjust="spacingAndGlyphs">Second (s)</text>
<text class="b" transform="translate(527.60,264.50) rotate(-90)" font-size="13.6" text-anchor="middle" textLength="55.4" lengthAdjust="spacingAndGlyphs">Number</text>
<text x="605.70" y="374.40" font-size="18" text-anchor="middle" textLength="22.56" lengthAdjust="spacingAndGlyphs" style="fill:#000">(h)</text>
</g>
</svg></body></html>
